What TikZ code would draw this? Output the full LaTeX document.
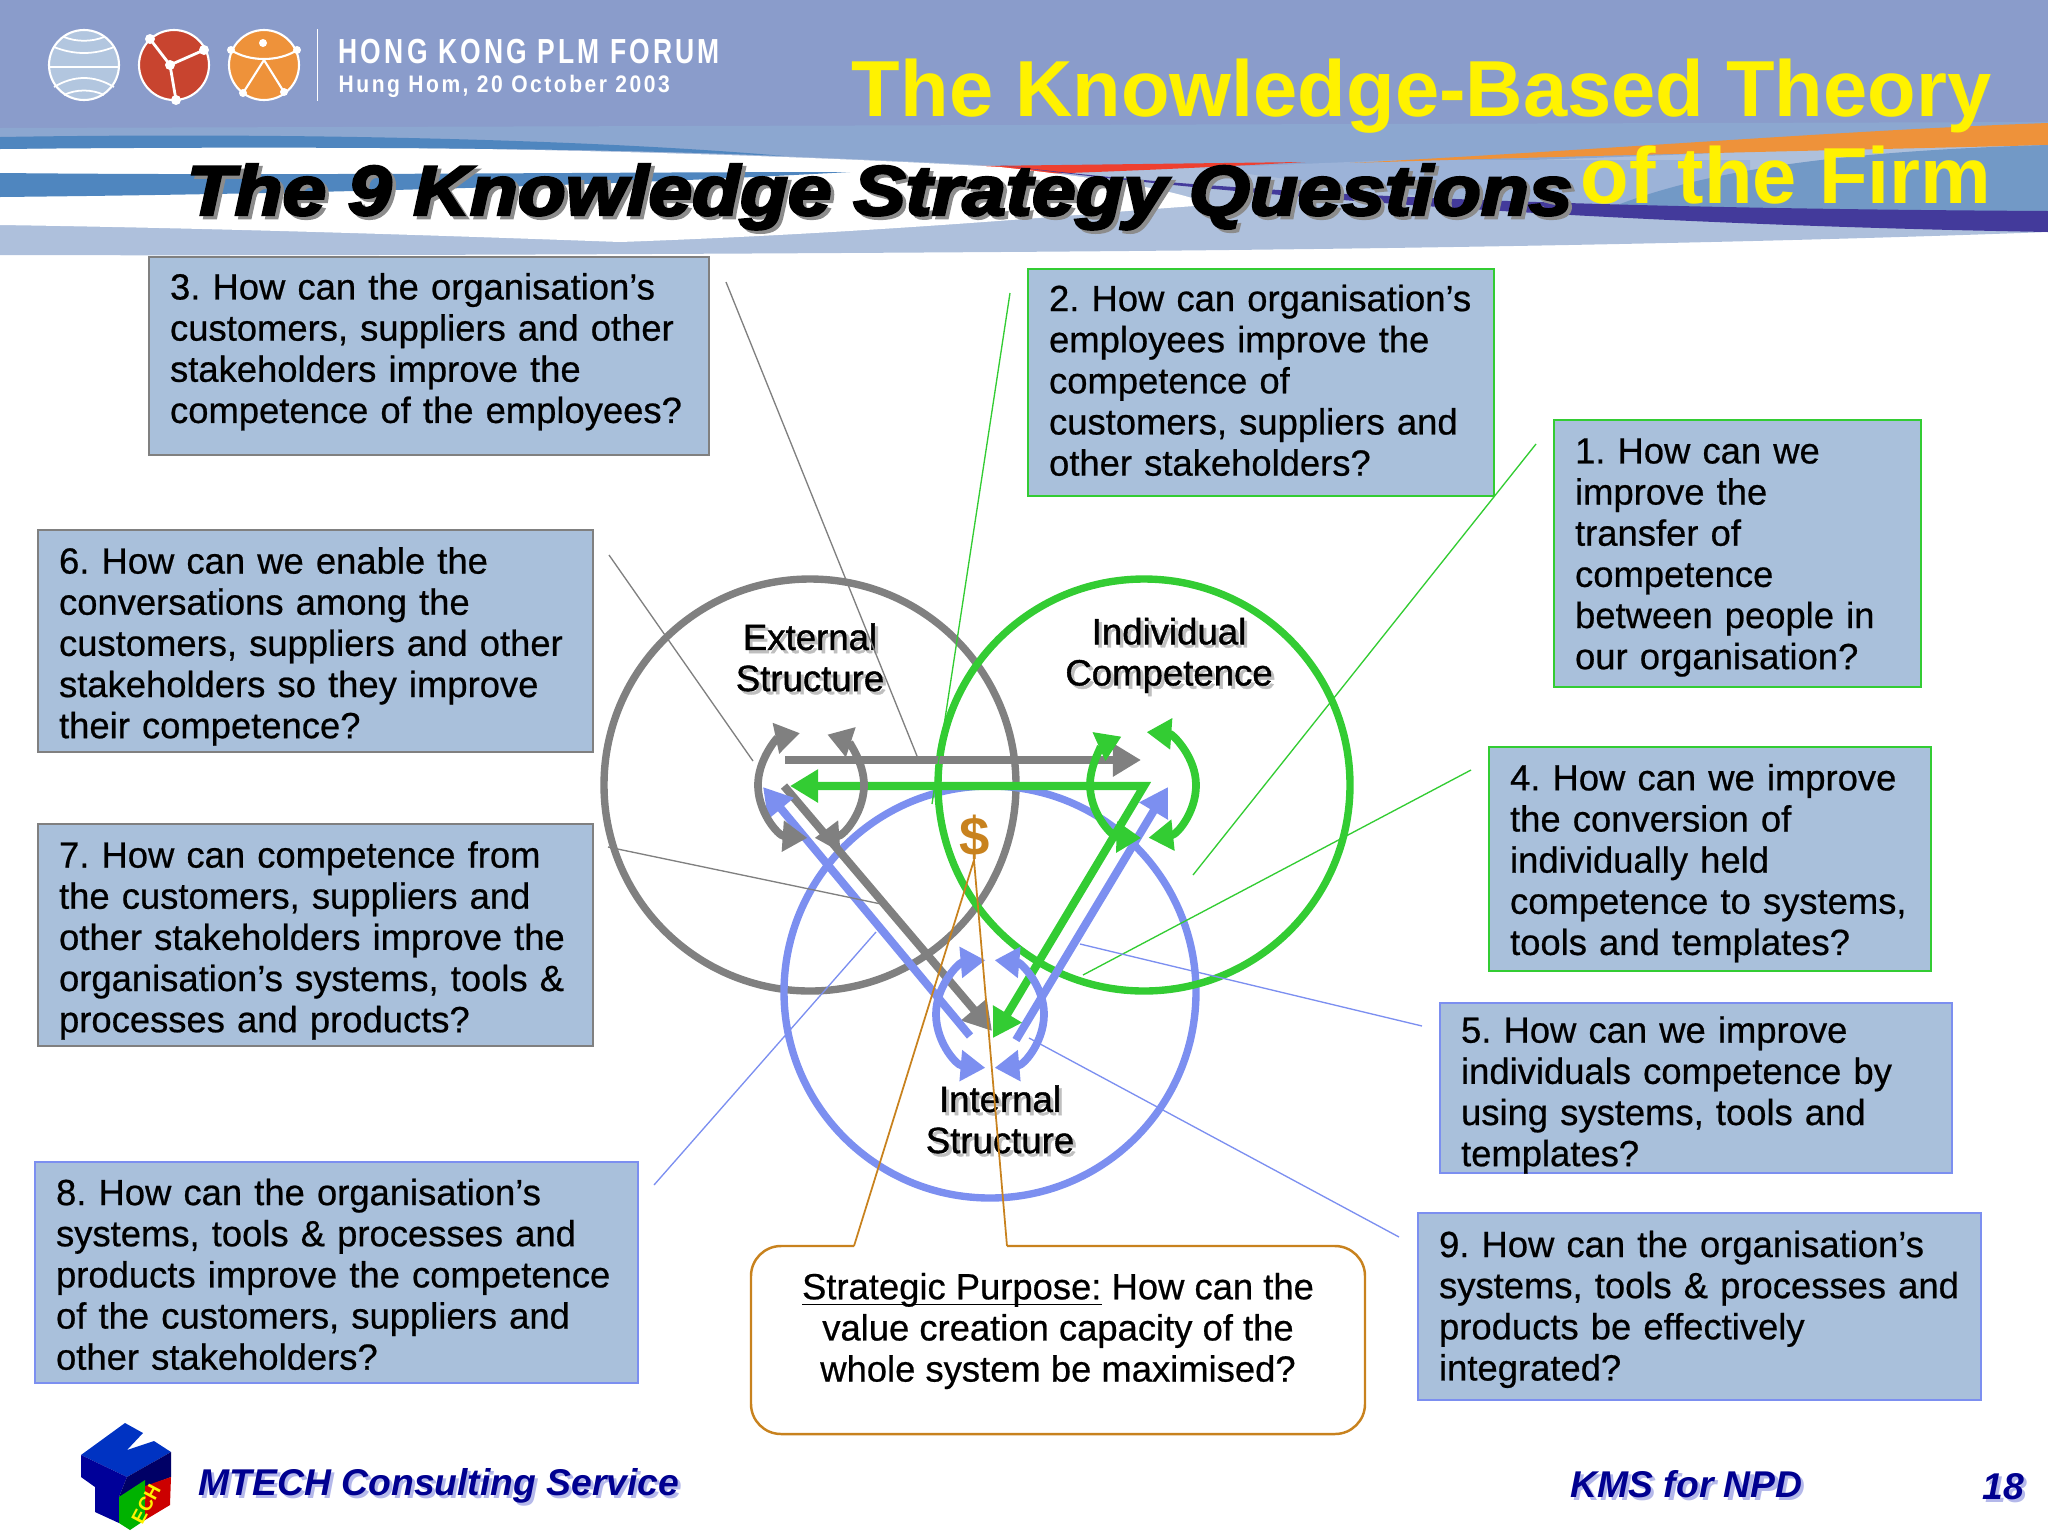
\documentclass[tikz,border=0pt]{standalone}
\usepackage{fontspec}
\usepackage{xcolor}
\setmainfont{Liberation Sans}
\newfontfamily\heavyfont[FakeBold=3.5]{Liberation Sans}
\newfontfamily\boxfont[FakeBold=0.6]{Liberation Sans}
\newfontfamily\labelfont[FakeBold=1.1]{Liberation Sans}
\newfontfamily\plmfont[LetterSpace=12]{Liberation Sans}
\usetikzlibrary{arrows.meta}

\definecolor{headBlue}{HTML}{8A9CCB}
\definecolor{headMid}{HTML}{8CA7D0}
\definecolor{headPale}{HTML}{AEC0DC}
\definecolor{headLow}{HTML}{9CB3D8}
\definecolor{stripeBlue}{HTML}{4F86BF}
\definecolor{steelBlue}{HTML}{7299C6}
\definecolor{darkViolet}{HTML}{433A9B}
\definecolor{stripeOrange}{HTML}{EE923A}
\definecolor{stripeRed}{HTML}{EE4030}
\definecolor{logoRed}{HTML}{C8442F}
\definecolor{boxBlue}{HTML}{A9C0DB}
\definecolor{lineGray}{HTML}{808080}
\definecolor{lineGreen}{HTML}{33CC33}
\definecolor{lineBlue}{HTML}{7C8FF0}
\definecolor{lineOrange}{HTML}{C8821E}
\definecolor{footNavy}{HTML}{000090}
\definecolor{footShadow}{HTML}{B4B8EA}

\newcommand{\shadowed}[2]{\leavevmode\rlap{\kern.9pt\raisebox{-.9pt}{\color{#1}#2}}#2}
\newcommand{\topGap}[1]{\rule{0pt}{\dimexpr8.2pt+#1\relax}}
\newcommand{\qText}[1]{\begin{tabular}{@{}l@{}}#1\end{tabular}}

\tikzset
  {
    qBox/.style={draw=#1, fill=boxBlue, line width=0.6pt, anchor=north west, align=left, inner xsep=0.21cm, inner ysep=0, font=\boxfont\fontsize{10.35}{11.7}\selectfont},
    ring/.style={draw=#1, line width=2.1pt},
    leader/.style={draw=#1, line width=0.38pt},
    flow/.style={draw=#1, line width=2.3pt, -{Triangle[length=8pt,width=9pt]}},
    loopArc/.style={draw=#1, line width=2.2pt, {Triangle[length=7pt,width=8.5pt]}-{Triangle[length=7pt,width=8.5pt]}},
    circleLabel/.style={font=\labelfont\fontsize{10.4}{11.7}\selectfont, align=center}
  }

\begin{document}
\frenchspacing
\begin{tikzpicture}[x=0.01cm,y=-0.01cm]
\useasboundingbox (0,0) rectangle (2048,1536);

% header bands
\fill[headPale] (0,125)--(2048,118)--(2048,232) .. controls (1700,245) and (1300,250) .. (1000,252) .. controls (700,254) and (300,256) .. (0,255)--cycle;
\fill[headBlue] (0,0) rectangle (2048,130);
\fill[headMid] (0,128)--(2048,122)--(2048,135) .. controls (1800,150) and (1600,160) .. (1300,166)--(1000,166) .. controls (700,150) and (300,142) .. (0,140)--cycle;
\fill[headLow] (1200,168)--(1400,160)--(1750,160)--(1750,215)--(1530,208) .. controls (1400,195) and (1300,180) .. (1200,168)--cycle;
\fill[stripeOrange] (1350,163) .. controls (1600,150) and (1850,130) .. (2048,123)--(2048,145) .. controls (1850,150) and (1600,155) .. (1350,163)--cycle;
\fill[stripeRed] (980,166)--(1305,162) .. controls (1200,168) and (1100,172) .. (1040,174)--cycle;
\fill[steelBlue] (1600,212) .. controls (1680,178) and (1800,152) .. (2048,145)--(2048,212)--cycle;
\fill[white] (0,149) .. controls (300,143) and (700,150) .. (1000,167) .. controls (1100,178) and (1180,190) .. (1210,205) .. controls (1100,212) and (900,232) .. (620,242) .. controls (400,234) and (200,228) .. (0,225)--cycle;
\fill[stripeBlue] (0,137) .. controls (300,132) and (600,140) .. (784,156) .. controls (600,148) and (300,146) .. (0,149)--cycle;
\fill[stripeBlue] (0,173)--(0,197) .. controls (300,194) and (600,186) .. (850,172) .. controls (600,172) and (300,176) .. (0,173)--cycle;
\fill[darkViolet] (1000,165) .. controls (1200,190) and (1500,208) .. (2048,211)--(2048,232) .. controls (1700,226) and (1300,205) .. (1000,165)--cycle;

% logos
\begin{scope}[shift={(84,65)}]
\filldraw[fill=boxBlue!90!white, draw=white, line width=0.6pt] (0,0) circle (35);
\draw[white, line width=0.5pt] (-35,2)--(35,2);
\draw[white, line width=0.5pt] (-30,-18) .. controls (-10,-10) and (10,-10) .. (30,-18);
\draw[white, line width=0.5pt] (-20,-28) .. controls (-8,-23) and (8,-23) .. (20,-28);
\draw[white, line width=0.5pt] (-30,22) .. controls (-10,10) and (10,10) .. (30,22);
\draw[white, line width=0.5pt] (-20,30) .. controls (-8,24) and (8,24) .. (20,30);
\end{scope}

\begin{scope}[shift={(174,65)}]
\filldraw[fill=logoRed, draw=white, line width=0.6pt] (0,0) circle (35);
\draw[white, line width=0.8pt] (-4,0)--(-24,-26);
\draw[white, line width=0.8pt] (-4,0)--(30,-15);
\draw[white, line width=0.8pt] (-4,0)--(2,35);
\foreach \a/\b in {-4/0,-24/-26,30/-15,2/35}
\fill[white] (\a,\b) circle (5);
\end{scope}

\begin{scope}[shift={(264,65)}]
\filldraw[fill=stripeOrange, draw=white, line width=0.6pt] (0,0) circle (35);
\draw[white, line width=0.6pt] (-33,-15) .. controls (-15,-3) and (15,-3) .. (33,-15);
\draw[white, line width=0.6pt] (-21,28)--(0,-5)--(20,27);
\foreach \a/\b in {-1/-22,-33/-15,33/-15,-21/28,20/27}
\fill[white] (\a,\b) circle (4);
\end{scope}

\draw[white, line width=0.5pt] (317.5,29)--(317.5,101);

% header texts
\node[anchor=base west, inner sep=0, text=white] (forumName) at (338,63)
{\scalebox{0.76}[1]{\plmfont\bfseries\fontsize{9.9}{12}\selectfont HONG KONG PLM FORUM}};
\node[anchor=base west, inner sep=0, text=white] (forumDate) at (338,92)
{\scalebox{0.88}[1]{\plmfont\bfseries\fontsize{6.8}{8}\selectfont Hung Hom, 20 October 2003}};

\node[anchor=base east, inner sep=0, text=yellow, align=right, font=\bfseries\fontsize{22.6}{24.5}\selectfont] (slideTitle) at (1992,203)
{The Knowledge-Based Theory\\of the Firm};

\node[anchor=base west, inner sep=0, font=\heavyfont\bfseries\itshape\fontsize{20}{24}\selectfont] (slideHeading) at (186,215)
{\scalebox{1.115}[1]{\shadowed{black!45}{The 9 Knowledge Strategy Questions}}};

% circles
\draw[ring=lineGray] (810,785) circle (206);
\draw[ring=lineBlue] (990,992) circle (206);
\draw[ring=lineGreen] (1144,785) circle (206);

\node[circleLabel] (extLabel) at (810,659) {\shadowed{black!25}{External}\\\shadowed{black!25}{Structure}};
\node[circleLabel] (indLabel) at (1169,657) {\shadowed{black!25}{Individual}\\\shadowed{black!25}{Competence}};
\node[circleLabel] (intLabel) at (1000,1121) {\shadowed{black!25}{Internal}\\\shadowed{black!25}{Structure}};

\node[text=lineOrange, font=\bfseries\fontsize{15.5}{17}\selectfont, inner sep=0] (dollarSign) at (975,837) {\$};

% arrow corners
\coordinate (extFrom) at (785,760);
\coordinate (indTo) at (1141,760);
\coordinate (extCorner) at (784,786);
\coordinate (indCorner) at (1144,786);
\coordinate (extTip) at (790,786);
\coordinate (intGray) at (992,1031);
\coordinate (intGreen) at (993,1038);
\coordinate (intBlueA) at (970,1036);
\coordinate (extBlue) at (763,787);
\coordinate (intBlueB) at (1016,1040);
\coordinate (indBlue) at (1168,787);

\draw[flow=lineGray] (extFrom)--(indTo);
\draw[flow=lineGray] (extCorner)--(intGray);
\draw[flow=lineBlue] (intBlueA)--(extBlue);
\draw[flow=lineBlue] (intBlueB)--(indBlue);
\draw[flow=lineGreen, {Triangle[length=8pt,width=9pt]}-{Triangle[length=8pt,width=9pt]}] (extTip)--(indCorner)--(intGreen);

% small loops
\coordinate (loopExt) at (811,785);
\coordinate (loopInd) at (1143,785);
\coordinate (loopInt) at (990,1014);

\draw[loopArc=lineGray] (loopExt) ++(94:53) arc[start angle=94, end angle=258, radius=53];
\draw[loopArc=lineGray] (loopExt) ++(86:53) arc[start angle=86, end angle=-72, radius=53];
\draw[loopArc=lineGreen] (loopInd) ++(92:53) arc[start angle=92, end angle=246, radius=53];
\draw[loopArc=lineGreen] (loopInd) ++(84:53) arc[start angle=84, end angle=-86, radius=53];
\draw[loopArc=lineBlue] (loopInt) ++(95:54) arc[start angle=95, end angle=265, radius=54];
\draw[loopArc=lineBlue] (loopInt) ++(85:54) arc[start angle=85, end angle=-85, radius=54];

% question boxes
\node[qBox=lineGray, text width=5.18cm, minimum height=1.98cm] (q3) at (148,256)
{\qText{3. How can the organisation’s\\customers, suppliers and other\\stakeholders improve the\\competence of the employees?\rule[-5.3pt]{0pt}{1pt}}};
\node[qBox=lineGreen, text width=4.24cm, minimum height=2.27cm] (q2) at (1027,268)
{\qText{\topGap{1.4pt}2. How can organisation’s\\employees improve the\\competence of\\customers, suppliers and\\other stakeholders?}};
\node[qBox=lineGreen, text width=3.25cm, minimum height=2.67cm] (q1) at (1553,419)
{\qText{\topGap{2.5pt}1. How can we\\improve the\\transfer of\\competence\\between people in\\our organisation?}};
\node[qBox=lineGray, text width=5.13cm, minimum height=2.22cm] (q6) at (37,529)
{\qText{\topGap{3.7pt}6. How can we enable the\\conversations among the\\customers, suppliers and other\\stakeholders so they improve\\their competence?}};
\node[qBox=lineGreen, text width=4.00cm, minimum height=2.24cm] (q4) at (1488,746)
{\qText{\topGap{3pt}4. How can we improve\\the conversion of\\individually held\\competence to systems,\\tools and templates?}};
\node[qBox=lineGray, text width=5.13cm, minimum height=2.22cm] (q7) at (37,823)
{\qText{\topGap{3.7pt}7. How can competence from\\the customers, suppliers and\\other stakeholders improve the\\organisation’s systems, tools \&\\processes and products?}};
\node[qBox=lineBlue, text width=4.70cm, minimum height=1.70cm] (q5) at (1439,1002)
{\raisebox{-4.8pt}[0pt][0pt]{\qText{5. How can we improve\\individuals competence by\\using systems, tools and\\templates?}}};
\node[qBox=lineBlue, text width=5.61cm, minimum height=2.21cm] (q8) at (34,1161)
{\qText{\topGap{3.7pt}8. How can the organisation’s\\systems, tools \& processes and\\products improve the competence\\of the customers, suppliers and\\other stakeholders?}};
\node[qBox=lineBlue, text width=5.21cm, minimum height=1.87cm] (q9) at (1417,1212)
{\qText{\topGap{2.2pt}9. How can the organisation’s\\systems, tools \& processes and\\products be effectively\\integrated?}};

% callout
\coordinate (calloutL) at (854,1246);
\coordinate (calloutR) at (1007,1246);
\coordinate (dollarTip) at (974,860);

\draw[line width=0.7pt, lineOrange, rounded corners=0.3cm] (calloutL)--(751,1246)--(751,1434)--(1365,1434)--(1365,1246)--(calloutR);
\draw[line width=0.5pt, lineOrange] (calloutL)--(dollarTip)--(calloutR);
\node[align=center, inner sep=0, font=\boxfont\fontsize{10.35}{11.7}\selectfont] (purposeText) at (1058,1331)
{\underline{\smash{Strategic Purpose:}} How can the\\value creation capacity of the\\whole system be maximised?};

% leader lines
\coordinate (q3from) at (726,282);
\coordinate (q3to) at (917,756);
\coordinate (q2from) at (1010,293);
\coordinate (q2to) at (932,804);
\coordinate (q1from) at (1536,444);
\coordinate (q1to) at (1193,875);
\coordinate (q6from) at (609,555);
\coordinate (q6to) at (753,761);
\coordinate (q4from) at (1471,770);
\coordinate (q4to) at (1083,975);
\coordinate (q7from) at (608,847);
\coordinate (q7to) at (881,904);
\coordinate (q8from) at (654,1185);
\coordinate (q8to) at (876,932);
\coordinate (q5from) at (1422,1026);
\coordinate (q5to) at (1080,944);
\coordinate (q9from) at (1399,1237);
\coordinate (q9to) at (1029,1038);

\foreach \q in {3,6,7}
\draw[leader=lineGray] (q\q from)--(q\q to);
\foreach \q in {1,2,4}
\draw[leader=lineGreen] (q\q from)--(q\q to);
\foreach \q in {5,8,9}
\draw[leader=lineBlue] (q\q from)--(q\q to);

% footer logo
\fill[blue!70!black!80!cyan] (81,1455)--(125,1423)--(143,1433)--(127,1450)--(154,1441)--(171,1452)--(127,1477)--cycle;
\fill[blue!60!black] (81,1455)--(127,1477)--(119,1497)--(119,1523)--(95,1512)--(95,1487)--(81,1477)--cycle;
\fill[blue!40!black] (127,1477)--(171,1452)--(171,1477)--(119,1497)--cycle;
\fill[green!70!black] (119,1497)--(145,1480)--(145,1520)--(130,1530)--(119,1523)--cycle;
\fill[red!80!black] (145,1486)--(171,1477)--(170,1505)--(145,1520)--cycle;
\node[text=yellow, font=\bfseries\fontsize{5.5}{6}\selectfont, inner sep=0, rotate=62] (tinyMark) at (146,1504) {ECH};

% footer texts
\node[anchor=base west, inner sep=0, text=footNavy, font=\bfseries\itshape\fontsize{10.6}{12}\selectfont] (footLeft) at (198,1495)
{\shadowed{footShadow}{MTECH Consulting Service}};
\node[anchor=base west, inner sep=0, text=footNavy, font=\bfseries\itshape\fontsize{10.6}{12}\selectfont] (footMid) at (1570,1497)
{\shadowed{footShadow}{KMS for NPD}};
\node[anchor=base west, inner sep=0, text=footNavy, font=\bfseries\itshape\fontsize{10.6}{12}\selectfont] (pageNum) at (1982,1499)
{\shadowed{footShadow}{18}};

\end{tikzpicture}
\end{document}
